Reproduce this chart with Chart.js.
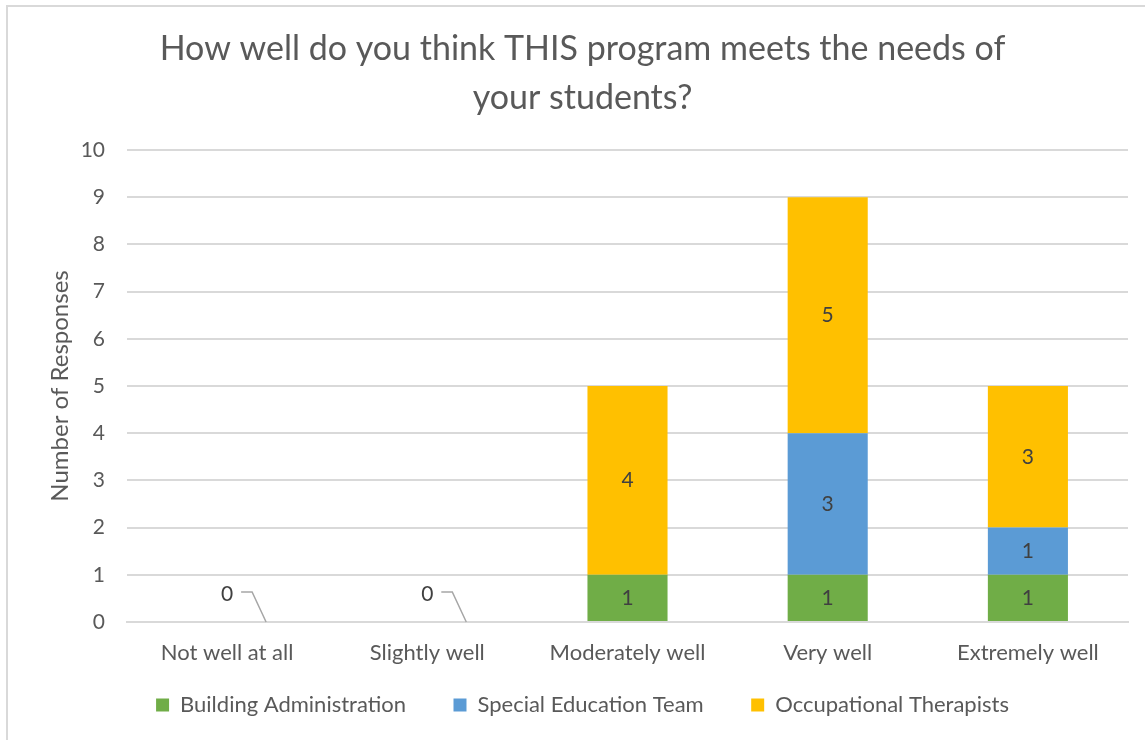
<!DOCTYPE html>
<html>
<head>
<meta charset="utf-8">
<script src="https://cdn.jsdelivr.net/npm/chart.js@4.4.1/dist/chart.umd.min.js"></script>
<style>
  html, body { margin: 0; padding: 0; background: #fff; overflow: hidden; }
  #frame { position: absolute; left: 6px; top: 5px; width: 1200px; height: 800px; border: 2px solid #d9d9d9; box-sizing: border-box; }
  #wrap { position: absolute; left: 0; top: 0; width: 1145px; height: 740px; }
</style>
</head>
<body>
<div id="frame"></div>
<div id="wrap"><canvas id="responsesChart" width="1145" height="740"></canvas></div>
<script>
// Survey responses by group, stacked per rating
const ratings = ['Not well at all', 'Slightly well', 'Moderately well', 'Very well', 'Extremely well'];
const buildingAdmin = [0, 0, 1, 1, 1];
const specialEdTeam = [0, 0, 0, 3, 1];
const occTherapists = [0, 0, 4, 5, 3];
const yTicks = [0, 1, 2, 3, 4, 5, 6, 7, 8, 9, 10];

const FONT = 'Lato, "Open Sans", sans-serif';
const TEXT = '#595959';

// value labels centred in each stacked segment
const segmentLabels = {
  id: 'segmentLabels',
  afterDatasetsDraw(chart) {
    const ctx = chart.ctx;
    ctx.save();
    ctx.font = '21px ' + FONT;
    ctx.fillStyle = '#404040';
    ctx.textAlign = 'center';
    ctx.textBaseline = 'middle';
    chart.data.datasets.forEach((ds, di) => {
      const meta = chart.getDatasetMeta(di);
      meta.data.forEach((bar, i) => {
        if (!ds.data[i]) return;
        ctx.fillText(String(ds.data[i]), bar.x, (bar.y + bar.base) / 2);
      });
    });

    // empty categories get a single "0" with a leader line
    const xs = chart.scales.x, ys = chart.scales.y;
    ratings.forEach((r, i) => {
      const total = chart.data.datasets.reduce((s, ds) => s + ds.data[i], 0);
      if (total !== 0) return;
      const cx = xs.getPixelForValue(i);
      const cy = ys.getPixelForValue(0);
      ctx.fillText('0', cx, cy - 28);
      ctx.strokeStyle = '#a6a6a6';
      ctx.lineWidth = 1.5;
      ctx.beginPath();
      ctx.moveTo(cx + 14, cy - 30);
      ctx.lineTo(cx + 25, cy - 30);
      ctx.lineTo(cx + 39, cy);
      ctx.stroke();
    });
    ctx.restore();
  }
};

new Chart(document.getElementById('responsesChart'), {
  type: 'bar',
  data: {
    labels: ratings,
    datasets: [
      { label: 'Building Administration', data: buildingAdmin, backgroundColor: '#70ad47' },
      { label: 'Special Education Team', data: specialEdTeam, backgroundColor: '#5b9bd5' },
      { label: 'Occupational Therapists', data: occTherapists, backgroundColor: '#ffc000' }
    ]
  },
  options: {
    responsive: false,
    animation: false,
    layout: { padding: { left: 37, right: 17, top: 25, bottom: 14 } },
    datasets: { bar: { categoryPercentage: 0.8, barPercentage: 0.5 } },
    plugins: {
      title: {
        display: true,
        text: ['How well do you think THIS program meets the needs of', 'your students?'],
        color: TEXT,
        font: { family: FONT, size: 34, weight: 'normal', lineHeight: 1.44 },
        padding: { top: 0, bottom: 27 }
      },
      legend: {
        position: 'bottom',
        labels: {
          color: TEXT,
          font: { family: FONT, size: 22 },
          boxWidth: 13,
          boxHeight: 13,
          padding: 20,
          // wider gaps between the three entries
          generateLabels(chart) {
            const items = Chart.defaults.plugins.legend.labels.generateLabels(chart);
            items.forEach((it, i) => {
              if (i < items.length - 1) it.text = it.text + '\u2003\u2002';
            });
            return items;
          }
        }
      },
      tooltip: { enabled: false }
    },
    scales: {
      x: {
        stacked: true,
        grid: { display: false, drawTicks: false },
        border: { color: '#d9d9d9', width: 2 },
        ticks: { color: TEXT, font: { family: FONT, size: 22 }, padding: 18 },
        afterFit(axis) { axis.height = 52; }
      },
      y: {
        stacked: true,
        min: 0,
        max: 10,
        afterBuildTicks(axis) { axis.ticks = yTicks.map(v => ({ value: v })); },
        grid: { color: '#d9d9d9', lineWidth: 2, drawTicks: false },
        border: { display: false },
        ticks: { color: TEXT, font: { family: FONT, size: 21 }, padding: 22 },
        title: {
          display: true,
          text: 'Number of Responses',
          color: TEXT,
          font: { family: FONT, size: 24 },
          padding: { top: 9, bottom: 0 }
        },
        afterFit(axis) { axis.width = 90; }
      }
    }
  },
  plugins: [segmentLabels]
});
</script>
</body>
</html>
